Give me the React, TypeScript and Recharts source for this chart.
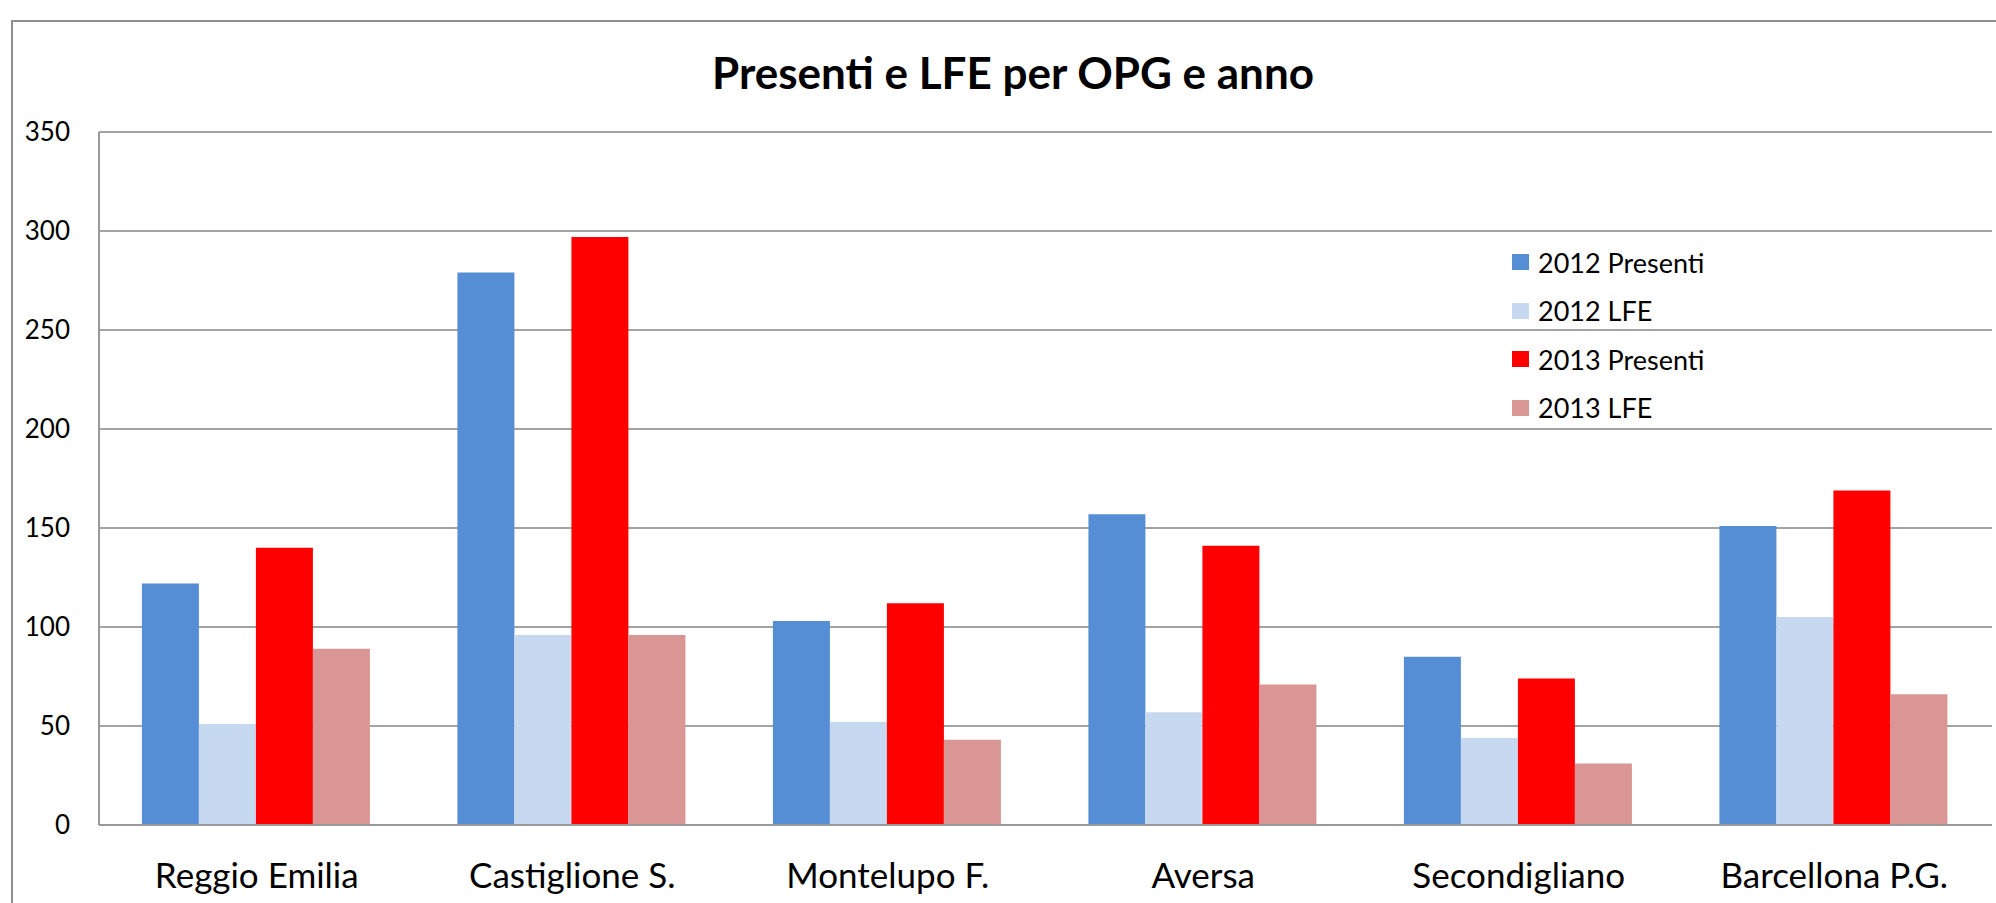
import { Bar, BarChart, CartesianGrid, Legend, XAxis, YAxis } from "recharts";

const categories = ["Reggio Emilia", "Castiglione S.", "Montelupo F.", "Aversa", "Secondigliano", "Barcellona P.G."];
const presenti2012 = [122, 279, 103, 157, 85, 151];
const lfe2012 = [51, 96, 52, 57, 44, 105];
const presenti2013 = [140, 297, 112, 141, 74, 169];
const lfe2013 = [89, 96, 43, 71, 31, 66];
const yTicks = [0, 50, 100, 150, 200, 250, 300, 350];

const series = [
  { key: "p2012", name: "2012 Presenti", color: "#558ED5" },
  { key: "l2012", name: "2012 LFE", color: "#C6D9F1" },
  { key: "p2013", name: "2013 Presenti", color: "#FF0000" },
  { key: "l2013", name: "2013 LFE", color: "#D99694" },
];

const data = categories.map((name, i) => ({
  name,
  p2012: presenti2012[i],
  l2012: lfe2012[i],
  p2013: presenti2013[i],
  l2013: lfe2013[i],
}));

const font = "Lato, 'Open Sans', sans-serif";

function LegendBox() {
  return (
    <div style={{ fontFamily: font, fontSize: 27, color: "#000" }}>
      {series.map((s) => (
        <div key={s.key} style={{ display: "flex", alignItems: "center", height: 48.5 }}>
          <span style={{ width: 17, height: 16, background: s.color, marginRight: 9, display: "inline-block" }} />
          <span>{s.name}</span>
        </div>
      ))}
    </div>
  );
}

export default function App() {
  return (
    <div style={{ position: "absolute", left: 0, top: 0, width: 1996, height: 903, overflow: "hidden", background: "#fff" }}>
      <div
        style={{
          position: "absolute",
          left: 11,
          top: 20,
          width: 2100,
          height: 1000,
          border: "2px solid #8f8f8f",
        }}
      />
      <div
        style={{
          position: "absolute",
          left: 0,
          width: 2026,
          top: 47,
          textAlign: "center",
          fontFamily: font,
          fontWeight: 700,
          fontSize: 44,
          lineHeight: "50px",
          color: "#000",
        }}
      >
        Presenti e LFE per OPG e anno
      </div>
      <div style={{ position: "absolute", left: 0, top: 0 }}>
        <BarChart
          width={1996}
          height={903}
          data={data}
          margin={{ top: 132, right: 4, bottom: 48, left: 0 }}
          barCategoryGap="13.6%"
          barGap={0}
        >
          <CartesianGrid vertical={false} stroke="#a3a3a3" strokeWidth={2} />
          <XAxis
            dataKey="name"
            height={30}
            tickLine={false}
            axisLine={{ stroke: "#9a9a9a", strokeWidth: 2 }}
            tickSize={0}
            tickMargin={38}
            tick={{ fill: "#000", fontSize: 35, fontFamily: font }}
            interval={0}
          />
          <YAxis
            width={99}
            domain={[0, 350]}
            ticks={yTicks}
            tickLine={false}
            axisLine={{ stroke: "#9a9a9a", strokeWidth: 2 }}
            tickSize={0}
            tickMargin={29}
            tick={{ fill: "#000", fontSize: 26, fontFamily: font }}
          />
          <Legend
            layout="vertical"
            align="center"
            verticalAlign="middle"
            wrapperStyle={{ left: 1512, top: 238, width: 300 }}
            content={() => <LegendBox />}
          />
          {series.map((s) => (
            <Bar key={s.key} dataKey={s.key} name={s.name} fill={s.color} isAnimationActive={false} />
          ))}
        </BarChart>
      </div>
    </div>
  );
}
